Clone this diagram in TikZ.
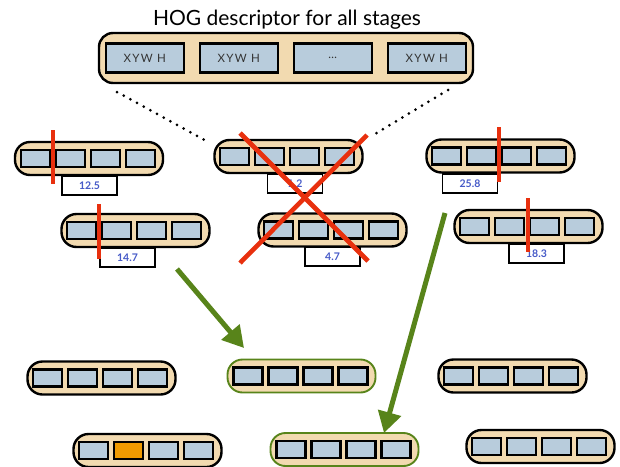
\documentclass[tikz,border=0pt]{standalone}
\usepackage{fontspec}
\setmainfont{Lato}
\usetikzlibrary{calc,arrows.meta}

\definecolor{banktan}{RGB}{242,218,176}
\definecolor{cellblue}{RGB}{184,204,220}
\definecolor{cutred}{RGB}{232,48,14}
\definecolor{keepgreen}{RGB}{88,132,26}
\definecolor{scoreblue}{RGB}{70,90,200}
\definecolor{pickorange}{RGB}{240,154,0}

\tikzset{
  bank/.style={draw=black,line width=2.4pt,fill=banktan,rounded corners=15pt,
    minimum width=148pt,minimum height=33pt,inner sep=0pt},
  kept/.style={draw=keepgreen,line width=1.9pt},
  cell/.style={draw=black,line width=2.3pt,fill=cellblue,
    minimum width=29pt,minimum height=17pt,inner sep=0pt},
  score/.style={draw=black,line width=1.6pt,fill=white,anchor=north,
    minimum width=55pt,minimum height=19pt,inner sep=0pt,text=scoreblue,
    font=\fontsize{10.5}{10.5}\selectfont\bfseries},
  cut/.style={draw=cutred,line width=3.4pt},
  cross/.style={draw=cutred,line width=4.6pt},
  pick/.style={draw=keepgreen,line width=5pt,-{Triangle[length=21pt,width=23pt]}},
  zoomline/.style={line width=3pt,line cap=round,dash pattern=on 0pt off 7.6pt},
  pbc2/.style={fill=pickorange}
}

% one stage: four cells in a capsule
\newcommand{\stagebank}[3][]{%
  \node[bank,#1] (#2) at #3 {};
  \foreach \i in {1,...,4}
    \node[cell,#2c\i/.try] (#2c\i) at ($(#2.west)+(\i*35-13.5,0)$) {};
}

\begin{document}
\begin{tikzpicture}[x=1pt,y=-1pt]
  \useasboundingbox (0,0) rectangle (620,466);

  % descriptor
  \node[anchor=base,font=\fontsize{21}{21}\selectfont] (title) at (287,25) {HOG descriptor for all stages};
  \node[bank,minimum width=374pt,minimum height=50pt,rounded corners=14pt] (hog) at (286,58) {};
  \foreach \i/\t in {1/{XYW H},2/{XYW H},3/{\ldots},4/{XYW H}}
    \node[cell,minimum width=78pt,minimum height=29pt,text=black!80,
      font=\fontsize{11.5}{11.5}\selectfont\addfontfeature{LetterSpace=12}]
      (hog\i) at ($(hog.west)+(\i*94-47,0)$) {\t};

  \coordinate (zl1) at (117,92);
  \coordinate (zl2) at (208,142);
  \coordinate (zr1) at (448,90);
  \coordinate (zr2) at (370,137);
  \draw[zoomline] (zl1) -- (zl2);
  \draw[zoomline] (zr1) -- (zr2);

  % scores
  \node[score] (ca-s) at (89.5,175) {12.5};
  \node[score] (cb-s) at (127.5,247) {14.7};
  \node[score] (cc-s) at (295,173) {1.2};
  \node[score] (cd-s) at (332.5,246) {4.7};
  \node[score] (ce-s) at (470,173) {25.8};
  \node[score] (cf-s) at (536.5,243) {18.3};

  % candidate stages
  \stagebank{ca}{(89,158.5)}
  \stagebank{cb}{(135.5,230.5)}
  \stagebank{cc}{(288.5,156.5)}
  \stagebank{cd}{(332.5,230)}
  \stagebank{ce}{(500.5,156)}
  \stagebank{cf}{(528.5,226.5)}

  % pool
  \stagebank{pa}{(101.5,378)}
  \stagebank{pb}{(147.5,450.5)}
  \stagebank[kept]{pc}{(301.5,376)}
  \stagebank[kept]{pd}{(344.5,449.5)}
  \stagebank{pe}{(512.5,376)}
  \stagebank{pf}{(540.5,446.5)}

  % thresholds
  \draw[cut] (53,130) -- (53,184);
  \draw[cut] (99,204) -- (99,259);
  \draw[cut] (499,127) -- (499,182);
  \draw[cut] (528,198) -- (528,252);

  \draw[cross] (240,133) -- (368,261);
  \draw[cross] (367,135) -- (240,263);

  \coordinate (pk1) at (177,269);
  \coordinate (pk1e) at (244,348);
  \coordinate (pk2) at (445,213);
  \coordinate (pk2e) at (384,433);
  \draw[pick] (pk1) -- (pk1e);
  \draw[pick] (pk2) -- (pk2e);
\end{tikzpicture}
\end{document}
